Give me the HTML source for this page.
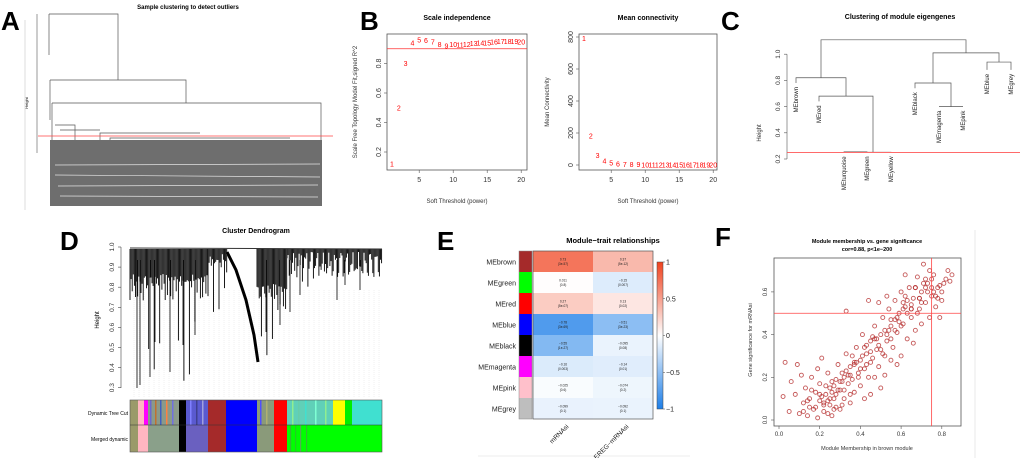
<!DOCTYPE html>
<html><head><meta charset="utf-8"><style>
html,body{margin:0;padding:0;background:#fff;width:1020px;height:458px;overflow:hidden}
svg{display:block;font-family:"Liberation Sans",Arial,sans-serif}
</style></head><body>
<svg id="fig" width="1020" height="458" viewBox="0 0 1020 458" xmlns="http://www.w3.org/2000/svg">
<g font-weight="bold" font-size="26" fill="#000">
<text x="1" y="30">A</text>
<text x="360" y="30">B</text>
<text x="721" y="30">C</text>
<text x="60" y="250">D</text>
<text x="437" y="250">E</text>
<text x="715" y="246">F</text>
</g>
<g id="pa">
<line x1="25" y1="20" x2="25" y2="210" stroke="#ddd"/>
<text x="188" y="9" font-size="6" font-weight="bold" text-anchor="middle">Sample clustering to detect outliers</text>
<line x1="37" y1="14" x2="37" y2="153" stroke="#555" stroke-width="0.6"/>
<text x="28" y="103" font-size="4" transform="rotate(-90 28 103)" text-anchor="middle">Height</text>
<rect x="50" y="140" width="272" height="66" fill="#6e6e6e"/>
<g stroke="#fff" stroke-width="0.7" opacity="0.8">
<line x1="55" y1="165" x2="320" y2="164"/><line x1="55" y1="175" x2="320" y2="177"/><line x1="58" y1="186" x2="318" y2="185"/><line x1="60" y1="196" x2="318" y2="197"/>
</g>
<g fill="none" stroke="#555" stroke-width="0.7">
<path d="M49 14H118V80"/><path d="M49 14V55"/>
<path d="M50 80H186V103"/><path d="M50 80V120"/>
<path d="M52 103H321V140"/><path d="M52 103V140"/>
<path d="M55 125H75V140M60 130H100M100 140V133H200M110 140V138H290"/>
</g>
<line x1="38" y1="136" x2="333" y2="136" stroke="#f44" stroke-width="0.8"/>
</g>
<g id="pb"></g>
<g id="pc"></g>
<g id="pd">
<text x="256" y="233" font-size="7" font-weight="bold" text-anchor="middle">Cluster Dendrogram</text>
<text x="99" y="320" font-size="6" transform="rotate(-90 99 320)" text-anchor="middle">Height</text>
<g id="dgrid" stroke="#d8d8d8" stroke-width="0.4" stroke-dasharray="1,1"></g>
<g id="dspikes" stroke="#000"></g>
<line x1="130" y1="248" x2="382" y2="249" stroke="#333" stroke-width="1"/>
<path d="M227 252L236 270L246 300L254 335L258 362" fill="none" stroke="#000" stroke-width="3"/>
<line x1="121" y1="247" x2="121" y2="388" stroke="#444" stroke-width="0.6"/>
<g id="dticks" font-size="6.5" fill="#333"></g>
<g id="dbars"></g>
<text x="128" y="415" font-size="5" text-anchor="end">Dynamic Tree Cut</text>
<text x="128" y="441" font-size="5" text-anchor="end">Merged dynamic</text>
</g>
<g id="pe">
<text x="613" y="243" font-size="7.5" font-weight="bold" text-anchor="middle">Module−trait relationships</text>
<line x1="478" y1="456" x2="690" y2="456" stroke="#eee"/>
</g>
<g id="pf">
<line x1="975" y1="230" x2="975" y2="458" stroke="#e8e8e8"/>
<text x="867" y="243" font-size="5.5" font-weight="bold" text-anchor="middle">Module membership vs. gene significance</text>
<text x="867" y="251" font-size="5.5" font-weight="bold" text-anchor="middle">cor=0.88, p&lt;1e−200</text>
</g>
</svg>
<script>
const powers=[1,2,3,4,5,6,7,8,9,10,11,12,13,14,15,16,17,18,19,20];
const fitR2=[0.12,0.5,0.8,0.94,0.96,0.955,0.945,0.93,0.92,0.93,0.925,0.93,0.935,0.94,0.94,0.945,0.95,0.95,0.95,0.945];
const meanK=[790,180,60,25,12,6,4,3,2,1.5,1.2,1,0.8,0.7,0.6,0.5,0.4,0.3,0.3,0.2];
const xTicksB=[5,10,15,20];
const yTicksR2=[0.2,0.4,0.6,0.8];
const yTicksK=[0,200,400,600,800];
const r2Cut=0.9;
const cLeaves=['MEbrown','MEred','MEturquoise','MEgreen','MEyellow','MEblack','MEmagenta','MEpink','MEblue','MEgrey'];
const cLeafHeights=[0.78,0.64,0.25,0.25,0.25,0.74,0.6,0.6,0.88,0.88];
const cYTicks=[0.2,0.4,0.6,0.8,1.0];
const cCut=0.25;
const dYTicks=[0.3,0.4,0.5,0.6,0.7,0.8,0.9,1.0];
const modules=['MEbrown','MEgreen','MEred','MEblue','MEblack','MEmagenta','MEpink','MEgrey'];
const moduleColors=['#a52a2a','#00ff00','#ff0000','#0000ff','#000000','#ff00ff','#ffc0cb','#bebebe'];
const traits=['mRNAsi','EREG−mRNAsi'];
const corMRNAsi=[0.73,0.011,0.27,-0.78,-0.55,-0.16,-0.025,-0.099];
const corEREG=[0.37,-0.15,0.13,-0.51,-0.095,-0.14,-0.074,-0.092];
const pMRNAsi=['(3e-57)','(0.8)','(5e-07)','(3e-69)','(1e-27)','(0.003)','(0.6)','(0.1)'];
const pEREG=['(5e-12)','(0.007)','(0.02)','(3e-23)','(0.08)','(0.01)','(0.2)','(0.1)'];
const cbTicks=[1,0.5,0,-0.5,-1];
const mmX=[0.02,0.03,0.05,0.06,0.08,0.09,0.1,0.11,0.12,0.13,0.14,0.15,0.16,0.17,0.18,0.19,0.2,0.2,0.21,0.22,0.23,0.24,0.25,0.25,0.26,0.27,0.28,0.29,0.3,0.3,0.31,0.32,0.33,0.34,0.35,0.35,0.36,0.37,0.38,0.39,0.4,0.4,0.41,0.42,0.43,0.44,0.45,0.45,0.46,0.47,0.48,0.49,0.5,0.5,0.51,0.52,0.53,0.54,0.55,0.55,0.56,0.57,0.58,0.59,0.6,0.6,0.61,0.62,0.63,0.64,0.65,0.66,0.67,0.68,0.69,0.7,0.71,0.72,0.73,0.74,0.75,0.76,0.77,0.78,0.8,0.82,0.83,0.85,0.33,0.19,0.28,0.36,0.42,0.24,0.31,0.47,0.52,0.58,0.63,0.66,0.7,0.74,0.53,0.49,0.44,0.62,0.67,0.79,0.15,0.22,0.27,0.32,0.38,0.43,0.57,0.61,0.69,0.72,0.76,0.81,0.12,0.26,0.34,0.46,0.54,0.65,
0.16,0.18,0.21,0.23,0.24,0.26,0.28,0.29,0.31,0.33,0.35,0.37,0.39,0.41,0.43,0.45,0.47,0.49,0.51,0.53,0.55,0.57,0.59,0.61,0.63,0.65,0.67,0.69,0.71,0.73,0.75,0.77,0.79,0.2,0.25,0.3,0.35,0.4,0.45,0.5,0.55,0.6,0.65,0.7,0.75,0.8,0.22,0.27,0.32,0.37,0.42,0.48,0.52,0.58,0.62,0.68,0.72,0.78,0.84,0.14];
const gsY=[0.11,0.27,0.04,0.18,0.12,0.26,0.03,0.21,0.08,0.15,0.02,0.1,0.2,0.05,0.13,0.01,0.09,0.17,0.29,0.04,0.12,0.22,0.07,0.15,0.02,0.1,0.19,0.26,0.05,0.14,0.22,0.1,0.31,0.17,0.08,0.25,0.19,0.13,0.34,0.22,0.28,0.16,0.4,0.24,0.31,0.2,0.37,0.12,0.29,0.44,0.33,0.25,0.4,0.15,0.48,0.3,0.37,0.52,0.28,0.44,0.34,0.56,0.41,0.5,0.3,0.6,0.45,0.53,0.38,0.62,0.48,0.57,0.42,0.67,0.52,0.6,0.73,0.55,0.64,0.48,0.58,0.68,0.53,0.62,0.56,0.66,0.7,0.68,0.51,0.24,0.12,0.3,0.1,0.03,0.07,0.2,0.21,0.26,0.5,0.36,0.45,0.7,0.58,0.55,0.56,0.68,0.62,0.48,0.06,0.08,0.16,0.2,0.27,0.35,0.47,0.55,0.57,0.62,0.6,0.64,0.04,0.13,0.21,0.39,0.42,0.52,
0.14,0.06,0.11,0.16,0.09,0.18,0.06,0.14,0.18,0.23,0.12,0.27,0.2,0.3,0.26,0.32,0.38,0.35,0.31,0.4,0.47,0.42,0.46,0.52,0.56,0.54,0.62,0.57,0.64,0.6,0.66,0.58,0.63,0.12,0.1,0.18,0.21,0.24,0.27,0.33,0.38,0.44,0.52,0.55,0.62,0.6,0.07,0.05,0.14,0.26,0.34,0.38,0.42,0.48,0.58,0.5,0.66,0.57,0.65,0.09];
const fXTicks=[0.0,0.2,0.4,0.6,0.8];
const fYTicks=[0.0,0.2,0.4,0.6];
const mmCut=0.75, gsCut=0.5;

const NS='http://www.w3.org/2000/svg';
function mk(tag,parent,attrs){const e=document.createElementNS(NS,tag);for(const k in attrs)e.setAttribute(k,attrs[k]);parent.appendChild(e);return e;}
function txt(parent,x,y,s,attrs){const e=mk('text',parent,Object.assign({x:x,y:y},attrs||{}));e.textContent=s;return e;}

const pb=document.getElementById('pb');
function panelB(x0,x1,y0,y1,yScale,yTicks,vals,title,ylab,name,cut){
  const xs=p=>392+(x0-387)+(p-1)*6.8;
  const box=mk('rect',pb,{x:x0,y:y0,width:x1-x0,height:y1-y0,fill:'none',stroke:'#555','stroke-width':0.8});
  
  
  const t=txt(pb,(x0+x1)/2,20,title,{'font-size':7,'font-weight':'bold','text-anchor':'middle'});
  
  
  const xl=txt(pb,(x0+x1)/2,203,'Soft Threshold (power)',{'font-size':6,'text-anchor':'middle',fill:'#333'});
  
  
  const yx=x0-30;
  const yl=txt(pb,yx,102,ylab,{'font-size':6,'text-anchor':'middle',fill:'#333',transform:'rotate(-90 '+yx+' 102)'});
  
  
  xTicksB.forEach(v=>{const x=xs(v);mk('line',pb,{x1:x,x2:x,y1:y1,y2:y1+3,stroke:'#555','stroke-width':0.6});
    const l=txt(pb,x,y1+12,String(v),{'font-size':7,'text-anchor':'middle',fill:'#333'});
    
    });
  yTicks.forEach(v=>{const y=yScale(v);mk('line',pb,{x1:x0-3,x2:x0,y1:y,y2:y,stroke:'#555','stroke-width':0.6});
    const l=txt(pb,x0-6,y,String(v),{'font-size':7,'text-anchor':'middle',fill:'#333',transform:'rotate(-90 '+(x0-6)+' '+y+')'});
    
    });
  if(cut!==null){const c=mk('line',pb,{x1:x0,x2:x1,y1:yScale(cut),y2:yScale(cut),stroke:'#f33','stroke-width':0.8});
    
    }
  vals.forEach((v,i)=>{const p=txt(pb,xs(powers[i]),yScale(v)+2.5,String(powers[i]),{'font-size':7,'text-anchor':'middle',fill:'#f00'});
    
    });
}
panelB(387,527,34,170,v=>152-(v-0.2)*147.5,yTicksR2,fitR2,'Scale independence','Scale Free Topology Model Fit,signed R^2','scale-independence',r2Cut);
panelB(579,717,34,170,v=>165-v*0.16,yTicksK,meanK,'Mean connectivity','Mean Connectivity','mean-connectivity',null);

const pc=document.getElementById('pc');
const cy=v=>159-(v-0.2)*131;
const ct=txt(pc,900,19,'Clustering of module eigengenes',{'font-size':7,'font-weight':'bold','text-anchor':'middle'});


mk('line',pc,{x1:787,x2:787,y1:cy(0.2),y2:cy(1.0),stroke:'#555','stroke-width':0.6});
cYTicks.forEach(v=>{const y=cy(v);mk('line',pc,{x1:784,x2:787,y1:y,y2:y,stroke:'#555','stroke-width':0.6});
  const l=txt(pc,780,y,v.toFixed(1),{'font-size':6.5,'text-anchor':'middle',fill:'#333',transform:'rotate(-90 780 '+y+')'});
  
  });
const chl=txt(pc,761,133,'Height',{'font-size':6,'text-anchor':'middle',fill:'#333',transform:'rotate(-90 761 133)'});


const leafX=[796,819,844,867,891,915,939,963,987,1011];
const merges=[[844,867,0.255],[855.5,891,0.252],[819,873,0.68],[796,846,0.82],[939,963,0.6],[915,951,0.78],[987,1011,0.94],[933,999,1.01],[821,966,1.11]];
const dg=mk('g',pc,{fill:'none',stroke:'#555','stroke-width':0.7});


const nodeTop={};
cLeaves.forEach((n,i)=>{nodeTop[leafX[i]]=cLeafHeights[i];});
merges.forEach(m=>{const h=cy(m[2]);
  const tl=nodeTop[m[0]]!==undefined?nodeTop[m[0]]:0.25, tr=nodeTop[m[1]]!==undefined?nodeTop[m[1]]:0.25;
  mk('path',dg,{d:'M'+m[0]+' '+cy(tl)+'V'+h+'H'+m[1]+'V'+cy(tr)});
  nodeTop[(m[0]+m[1])/2]=m[2];});
cLeaves.forEach((n,i)=>{const x=leafX[i]+2,y=cy(cLeafHeights[i])+4;
  const l=txt(pc,x,y,n,{'font-size':6,'text-anchor':'end',fill:'#222',transform:'rotate(-90 '+x+' '+y+')'});
  
  });
const cc=mk('line',pc,{x1:787,x2:1020,y1:cy(cCut),y2:cy(cCut),stroke:'#f55','stroke-width':0.8});



const dy=v=>247+(1-v)*201;
const dt=document.getElementById('dticks');
dYTicks.forEach(v=>{const y=dy(v);mk('line',dt,{x1:118,x2:121,y1:y,y2:y,stroke:'#444','stroke-width':0.6});
  const l=txt(dt,114,y,v.toFixed(1),{'text-anchor':'middle',transform:'rotate(-90 114 '+y+')'});
  
  });
const dgr=document.getElementById('dgrid');
for(let x=134;x<382;x+=5){mk('line',dgr,{x1:x,x2:x,y1:290,y2:398});}
const dRegions=[[130,208,292,80],[208,227,272,30],[257,287,302,60],[287,382,270,30]];
const ds=document.getElementById('dspikes');
dRegions.forEach(r=>{
  for(let x=r[0];x<r[1];x+=1.1){
    const k=Math.abs(Math.sin(x*1.7)*Math.cos(x*0.53));
    let b=r[2]-18+k*30;
    if(k>0.9) b+=r[3]*(k-0.9)*10;
    mk('line',ds,{x1:x,x2:x,y1:249,y2:Math.min(388,b),'stroke-width':0.9});
  }});
[[140,385],[150,377],[137,388],[170,372],[183,345],[195,335],[155,342],[290,312],[280,325],[266,332],[300,295],[337,300],[360,290],[345,285]].forEach(s=>{
  mk('line',ds,{x1:s[0],x2:s[0],y1:260,y2:s[1],'stroke-width':0.8});});
const db=document.getElementById('dbars');
const rowSegs=[[130,138,'#9a9a6a','#9a9a6a'],[138,144,'#ffb6c1','#ffb6c1'],[144,148,'#ff00ff','#ffb6c1'],[148,179,'#8a9a8a','#8aa08a'],[179,186,'#000000','#000000'],[186,208,'#5a5ad0','#6a60c0'],[208,226,'#a52a2a','#a52a2a'],[226,257,'#0000ff','#0000ff'],[257,274,'#8a9a7a','#8a9a7a'],[274,287,'#ff0000','#ff0000'],[287,333,'#60d0b8','#00ff00'],[333,345,'#ffff00','#00ff00'],[345,352,'#00ee00','#00ff00'],[352,382,'#40e0d0','#00ff00']];
rowSegs.forEach(s=>{
  const a=mk('rect',db,{x:s[0],y:400,width:s[1]-s[0],height:25,fill:s[2]});
  
  
  const b=mk('rect',db,{x:s[0],y:425,width:s[1]-s[0],height:27,fill:s[3]});
  
  });
[[150,'#6a6ad0'],[155,'#c07030'],[160,'#4060c0'],[166,'#ff8040'],[172,'#7070e0'],[190,'#8080ff'],[196,'#404090'],[202,'#a0a0e0'],[260,'#5050ff'],[266,'#b0b070'],[292,'#90ee90'],[298,'#66cdaa'],[305,'#40e0d0'],[315,'#7fffd4'],[325,'#90ee90']].forEach(s=>{
  mk('rect',db,{x:s[0],y:400,width:1.5,height:25,fill:s[1]});});
[[290,'#33bb33'],[295,'#22cc22'],[300,'#55aa55'],[306,'#33bb33']].forEach(s=>{mk('rect',db,{x:s[0],y:425,width:1.2,height:27,fill:s[1]});});
mk('rect',db,{x:130,y:400,width:252,height:52,fill:'none',stroke:'#555','stroke-width':0.6});
mk('line',db,{x1:130,x2:382,y1:425,y2:425,stroke:'#333','stroke-width':0.6});

const pe=document.getElementById('pe');
const ex0=533, colW=60, ey0=251, rowH=21;
function corColor(v){
  const a=Math.min(1,Math.abs(v));
  const end=v>=0?[240,66,30]:[30,127,232];
  const c=end.map(e=>Math.round(255+(e-255)*a));
  return 'rgb('+c.join(',')+')';}
modules.forEach((m,i)=>{
  const y=ey0+i*rowH;
  const sw=mk('rect',pe,{x:519,y:y,width:13,height:rowH,fill:moduleColors[i]});
  
  
  const l=txt(pe,516,y+rowH/2+3,m,{'font-size':7,'text-anchor':'end',fill:'#222'});
  
  
  [[corMRNAsi,pMRNAsi],[corEREG,pEREG]].forEach((arr,j)=>{
    const x=ex0+j*colW;
    const c=mk('rect',pe,{x:x,y:y,width:colW,height:rowH,fill:corColor(arr[0][i])});
    
    
    const t1=txt(pe,x+colW/2,y+rowH/2-1,String(arr[0][i]).replace('-','−'),{'font-size':3.2,'text-anchor':'middle',fill:'#222'});
    
    
    const t2=txt(pe,x+colW/2,y+rowH/2+3.5,arr[1][i],{'font-size':3.2,'text-anchor':'middle',fill:'#222'});
    
    });});
mk('rect',pe,{x:ex0,y:ey0,width:colW*2,height:rowH*8,fill:'none',stroke:'#555','stroke-width':0.7});
mk('rect',pe,{x:519,y:ey0,width:13,height:rowH*8,fill:'none',stroke:'#888','stroke-width':0.5});
traits.forEach((t,j)=>{const x=ex0+j*colW+colW/2+6,y=ey0+rowH*8+8;
  const l=txt(pe,x,y,t,{'font-size':6.5,'text-anchor':'end',fill:'#222',transform:'rotate(-45 '+x+' '+y+')'});
  
  });
const defs=mk('defs',pe,{});
const gr=mk('linearGradient',defs,{id:'cbg',x1:0,y1:0,x2:0,y2:1});
mk('stop',gr,{offset:'0','stop-color':corColor(1)});
mk('stop',gr,{offset:'0.5','stop-color':'#fff'});
mk('stop',gr,{offset:'1','stop-color':corColor(-1)});
const cby=v=>262+(1-v)/2*147;
const cb=mk('rect',pe,{x:657,y:cby(1),width:6,height:147,fill:'url(#cbg)',stroke:'#444','stroke-width':0.5});


cbTicks.forEach(v=>{const y=cby(v);mk('line',pe,{x1:663,x2:665,y1:y,y2:y,stroke:'#444','stroke-width':0.5});
  const l=txt(pe,666,y+2.5,String(v).replace('-','−'),{'font-size':7,fill:'#222'});
  
  });

const pf=document.getElementById('pf');
const fx=v=>779+v*203.5, fy=v=>420-v*213.5;
const fb=mk('rect',pf,{x:774,y:258,width:187,height:168,fill:'none',stroke:'#555','stroke-width':0.8});


const pts=mk('g',pf,{fill:'none',stroke:'#b22222','stroke-width':0.9,'stroke-opacity':0.75});


mmX.forEach((v,i)=>{const c=mk('circle',pts,{cx:fx(v),cy:fy(gsY[i]),r:2});
  
  });
const vl=mk('line',pf,{x1:fx(mmCut),x2:fx(mmCut),y1:258,y2:426,stroke:'#f44','stroke-width':0.8});


const hl=mk('line',pf,{x1:774,x2:961,y1:fy(gsCut),y2:fy(gsCut),stroke:'#f44','stroke-width':0.8});


fXTicks.forEach(v=>{const x=fx(v);mk('line',pf,{x1:x,x2:x,y1:426,y2:429,stroke:'#555','stroke-width':0.6});
  const l=txt(pf,x,436,v.toFixed(1),{'font-size':6,'text-anchor':'middle',fill:'#333'});
  
  });
fYTicks.forEach(v=>{const y=fy(v);mk('line',pf,{x1:771,x2:774,y1:y,y2:y,stroke:'#555','stroke-width':0.6});
  const l=txt(pf,767,y,v.toFixed(1),{'font-size':6,'text-anchor':'middle',fill:'#333',transform:'rotate(-90 767 '+y+')'});
  
  });
const fxl=txt(pf,867,450,'Module Membership in brown module',{'font-size':5.5,'text-anchor':'middle',fill:'#333'});


const fyl=txt(pf,752,340,'Gene significance for  mRNAsi',{'font-size':5.5,'text-anchor':'middle',fill:'#333',transform:'rotate(-90 752 340)'});


</script>
</body></html>
